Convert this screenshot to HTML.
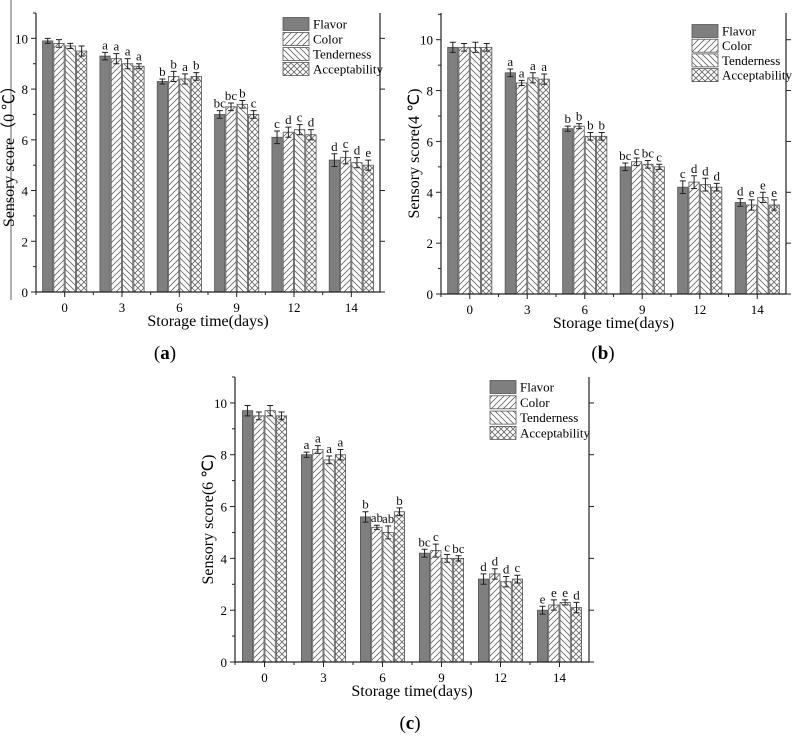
<!DOCTYPE html>
<html><head><meta charset="utf-8">
<style>
html,body{margin:0;padding:0;background:#fff;}
svg, svg text{font-family:"Liberation Serif","Times New Roman",serif;}
</style></head>
<body>
<svg id="fig" width="795" height="738" viewBox="0 0 795 738" font-family="Liberation Serif, serif">
<defs>
<pattern id="pColor" patternUnits="userSpaceOnUse" width="6" height="6"><path d="M-1,7 L7,-1 M-1,1 L1,-1 M5,7 L7,5" stroke="#666" stroke-width="0.8"/></pattern>
<pattern id="pTender" patternUnits="userSpaceOnUse" width="6" height="6"><path d="M-1,-1 L7,7 M5,-1 L7,1 M-1,5 L1,7" stroke="#666" stroke-width="0.8"/></pattern>
<pattern id="pAccept" patternUnits="userSpaceOnUse" width="6" height="6"><path d="M-1,7 L7,-1 M-1,-1 L7,7" stroke="#666" stroke-width="0.8"/></pattern>
</defs>
<line x1="11" y1="0" x2="11" y2="300" stroke="#999" stroke-width="1.5"/>
<text x="165" y="359" font-size="19" text-anchor="middle" font-family="Liberation Serif, serif">(<tspan font-weight="bold">a</tspan>)</text>
<text x="603" y="359" font-size="19" text-anchor="middle" font-family="Liberation Serif, serif">(<tspan font-weight="bold">b</tspan>)</text>
<text x="410" y="729" font-size="19" text-anchor="middle" font-family="Liberation Serif, serif">(<tspan font-weight="bold">c</tspan>)</text>
</svg>
<script>
const categories = ["0","3","6","9","12","14"];
const seriesNames = ["Flavor","Color","Tenderness","Acceptability"];
const yTicks = [0,2,4,6,8,10];
// Panel a (0 °C)
const aFlavor = [9.9,9.3,8.3,7.0,6.1,5.2];
const aColor = [9.8,9.2,8.5,7.3,6.3,5.3];
const aTender = [9.7,9.0,8.4,7.4,6.4,5.1];
const aAccept = [9.5,8.9,8.5,7.0,6.2,5.0];
const aErr = [[0.1,0.15,0.1,0.15,0.25,0.25],[0.15,0.2,0.2,0.15,0.2,0.25],[0.1,0.2,0.2,0.15,0.2,0.2],[0.2,0.1,0.15,0.15,0.2,0.2]];
const aLetters = [["","a","b","bc","c","d"],["","a","b","bc","d","c"],["","a","a","b","c","d"],["","a","b","c","d","e"]];
// Panel b (4 °C)
const bFlavor = [9.7,8.7,6.5,5.0,4.2,3.6];
const bColor = [9.7,8.3,6.6,5.2,4.4,3.5];
const bTender = [9.7,8.5,6.2,5.1,4.3,3.8];
const bAccept = [9.7,8.45,6.2,5.0,4.2,3.5];
const bErr = [[0.2,0.15,0.1,0.15,0.25,0.15],[0.15,0.1,0.1,0.15,0.25,0.2],[0.2,0.2,0.15,0.15,0.25,0.2],[0.15,0.2,0.15,0.1,0.15,0.2]];
const bLetters = [["","a","b","bc","c","d"],["","a","b","c","d","e"],["","a","b","bc","d","e"],["","a","b","c","d","e"]];
// Panel c (6 °C)
const cFlavor = [9.7,8.0,5.6,4.2,3.2,2.0];
const cColor = [9.5,8.2,5.2,4.3,3.4,2.2];
const cTender = [9.7,7.8,5.0,4.0,3.1,2.3];
const cAccept = [9.5,8.0,5.8,4.0,3.2,2.1];
const cErr = [[0.2,0.1,0.2,0.15,0.2,0.15],[0.15,0.15,0.08,0.25,0.2,0.2],[0.2,0.15,0.25,0.15,0.2,0.1],[0.15,0.2,0.15,0.1,0.15,0.2]];
const cLetters = [["","a","b","bc","d","e"],["","a","ab","c","d","e"],["","a","ab","c","d","e"],["","a","b","bc","c","d"]];

const NS="http://www.w3.org/2000/svg";
const svg=document.getElementById('fig');
const FF="Liberation Serif, serif";
const fills=["#7f7f7f","url(#pColor)","url(#pTender)","url(#pAccept)"];
function mk(tag,attrs,parent){const e=document.createElementNS(NS,tag);for(const k in attrs)e.setAttribute(k,attrs[k]);if(tag==='text')e.setAttribute('font-family',FF);(parent||svg).appendChild(e);return e;}

function panel(id,box,series,errs,letters,yTitle,legend){
  const g=mk('g',{});
  
  
  const {l,r,t,b,ymax}=box;
  const yS=v=>b-(v/ymax)*(b-t);
  const step=(r-l)/categories.length;
  const xS=i=>l+step*(i+0.5);
  const bw=11.3;
  series.forEach((vals,s)=>{
    vals.forEach((v,i)=>{
      const x=xS(i)-2*bw+s*bw;
      const rect=mk('rect',{x:x+0.5,y:yS(v),width:bw-1,height:b-yS(v),fill:fills[s],stroke:"#555","stroke-width":0.8},g);
      
      
      const cx=x+bw/2,e=errs[s][i];
      mk('path',{d:`M${cx},${yS(v+e)}V${yS(v-e)}M${cx-3},${yS(v+e)}H${cx+3}M${cx-3},${yS(v-e)}H${cx+3}`,stroke:"#222","stroke-width":1,fill:"none"},g);
      if(letters[s][i]){
        const tx=mk('text',{x:cx,y:yS(v+e)-3,"font-size":13,"text-anchor":"middle",fill:"#111"},g);
        tx.textContent=letters[s][i];
        
        
      }
    });
  });
  const ax=mk('path',{d:`M${l},${t}V${b}H${r}V${t}`,stroke:"#222","stroke-width":1.2,fill:"none"},g);
  
  
  yTicks.forEach(v=>{
    mk('line',{x1:l-5,x2:l,y1:yS(v),y2:yS(v),stroke:"#222"},g);
    mk('line',{x1:l-3,x2:l,y1:yS(v+1),y2:yS(v+1),stroke:"#222"},g);
    mk('line',{x1:r,x2:r+5,y1:yS(v),y2:yS(v),stroke:"#222"},g);
    const tx=mk('text',{x:l-8,y:yS(v)+5,"font-size":13,"text-anchor":"end"},g);
    tx.textContent=v;
    
    
  });
  categories.forEach((c,i)=>{
    mk('line',{x1:xS(i),x2:xS(i),y1:b,y2:b+5,stroke:"#222"},g);
    mk('line',{x1:l+step*i,x2:l+step*i,y1:b,y2:b+3,stroke:"#222"},g);
    const tx=mk('text',{x:xS(i),y:b+20,"font-size":13,"text-anchor":"middle"},g);
    tx.textContent=c;
    
    
  });
  const xt=mk('text',{x:(l+r)/2,y:b+34,"font-size":16,"text-anchor":"middle"},g);
  xt.textContent="Storage time(days)";
  
  
  const yt=mk('text',{x:0,y:0,"font-size":16,"text-anchor":"middle",transform:`translate(${l-22},${(t+b)/2}) rotate(-90)`},g);
  yt.textContent=yTitle;
  
  
  seriesNames.forEach((n,s)=>{
    const y=legend.y+s*legend.dy;
    const lr=mk('rect',{x:legend.x,y:y-6.5,width:26,height:13,fill:fills[s],stroke:"#555","stroke-width":0.8},g);
    
    
    const tx=mk('text',{x:legend.x+30,y:y+4.5,"font-size":13},g);
    tx.textContent=n;
    
    
  });
}
panel('a',{l:36,r:380,t:13,b:292,ymax:11},[aFlavor,aColor,aTender,aAccept],aErr,aLetters,"Sensory score\uFF080 \u2103\uFF09",{x:283,y:24,dy:15});
panel('b',{l:441,r:786,t:13,b:294,ymax:11.05},[bFlavor,bColor,bTender,bAccept],bErr,bLetters,"Sensory score(4 \u2103)",{x:692,y:31,dy:14.7});
panel('c',{l:235,r:589,t:377,b:662,ymax:11},[cFlavor,cColor,cTender,cAccept],cErr,cLetters,"Sensory score(6 \u2103)",{x:490,y:387,dy:15.3});
</script>
</body></html>
